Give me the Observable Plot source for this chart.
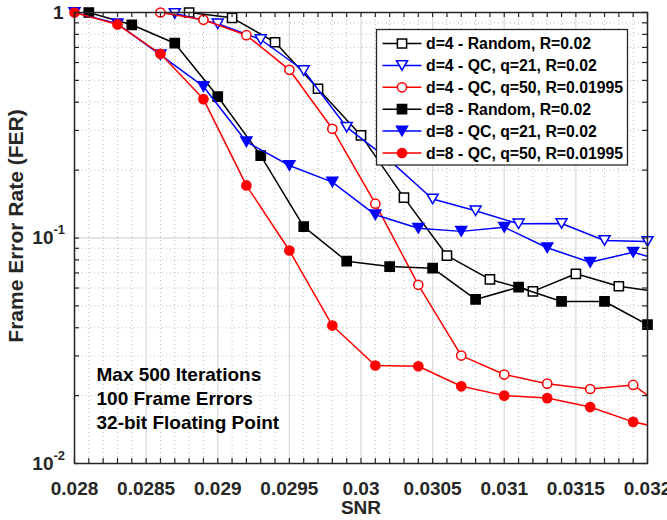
<!DOCTYPE html>
<html><head><meta charset="utf-8">
<script src="https://cdn.jsdelivr.net/npm/d3@7"></script>
<script src="https://cdn.jsdelivr.net/npm/@observablehq/plot@0.6"></script>
<style>
html,body{margin:0;padding:0;background:#fff;}
#chart{width:667px;height:520px;}
</style></head><body><div id="chart"></div>
<script>
// ---- tick values / labels ----
const xMajorTicks = [0.028, 0.0285, 0.029, 0.0295, 0.03, 0.0305, 0.031, 0.0315, 0.032];
const xTickLabels = ["0.028", "0.0285", "0.029", "0.0295", "0.03", "0.0305", "0.031", "0.0315", "0.032"];
const yTickValues = [0.01, 0.1];
const yTickBase = ["10", "10"];
const yTickExp = ["-2", "-1"];
const yTopTick = [1];
const yTopLabel = ["1"];

// ---- series data ----
const seriesNames = [
  "d=4 - Random, R=0.02",
  "d=4 - QC, q=21, R=0.02",
  "d=4 - QC, q=50, R=0.01995",
  "d=8 - Random, R=0.02",
  "d=8 - QC, q=21, R=0.02",
  "d=8 - QC, q=50, R=0.01995"
];
const snrD4Random = [0.0288, 0.0291, 0.0294, 0.0297, 0.0300, 0.0303, 0.0306, 0.0309, 0.0312, 0.0315, 0.0318, 0.0321];
const ferD4Random = [1.0, 0.947, 0.738, 0.459, 0.285, 0.151, 0.0836, 0.0655, 0.058, 0.0694, 0.0611, 0.0573];

const snrD4Q21 = [0.0287, 0.0290, 0.0293, 0.0296, 0.0299, 0.0302, 0.0305, 0.0308, 0.0311, 0.0314, 0.0317, 0.0320];
const ferD4Q21 = [0.99, 0.891, 0.759, 0.553, 0.310, 0.221, 0.149, 0.132, 0.1156, 0.116, 0.0975, 0.0966];

const snrD4Q50 = [0.0286, 0.0289, 0.0292, 0.0295, 0.0298, 0.0301, 0.0304, 0.0307, 0.0310, 0.0313, 0.0316, 0.0319, 0.0322];
const ferD4Q50 = [1.0, 0.928, 0.793, 0.557, 0.305, 0.142, 0.062, 0.0301, 0.0248, 0.0226, 0.0214, 0.0223, 0.0163];

const snrD8Random = [0.0281, 0.0284, 0.0287, 0.0290, 0.0293, 0.0296, 0.0299, 0.0302, 0.0305, 0.0308, 0.0311, 0.0314, 0.0317, 0.0320];
const ferD8Random = [1.0, 0.882, 0.731, 0.424, 0.232, 0.1124, 0.0789, 0.0747, 0.0735, 0.0534, 0.0605, 0.0523, 0.0523, 0.0413];

const snrD8Q21 = [0.0280, 0.0283, 0.0286, 0.0289, 0.0292, 0.0295, 0.0298, 0.0301, 0.0304, 0.0307, 0.0310, 0.0313, 0.0316, 0.0319, 0.0322];
const ferD8Q21 = [1.0, 0.891, 0.649, 0.470, 0.267, 0.2097, 0.177, 0.1267, 0.1105, 0.107, 0.1116, 0.0905, 0.078, 0.0865, 0.0763];

const snrD8Q50 = [0.0280, 0.0283, 0.0286, 0.0289, 0.0292, 0.0295, 0.0298, 0.0301, 0.0304, 0.0307, 0.0310, 0.0313, 0.0316, 0.0319, 0.0322];
const ferD8Q50 = [1.0, 0.885, 0.656, 0.413, 0.171, 0.088, 0.0409, 0.0272, 0.0270, 0.0220, 0.0200, 0.0195, 0.0178, 0.0153, 0.0139];

const annotationLines = ["Max 500 Iterations", "100 Frame Errors", "32-bit Floating Point"];

// ---- styling ----
const FONT = "'Liberation Sans', Arial, Helvetica, sans-serif";
const AX = "#262626";
const triDown = {
  draw(context, size) {
    const r = Math.sqrt(size / Math.PI);
    const w = r * 1.1, h = r * 0.95;
    context.moveTo(-w, -h); context.lineTo(w, -h); context.lineTo(0, h); context.closePath();
  }
};
const rows = (xs, ys) => xs.map((x, i) => ({x, y: ys[i]}));
const series = [
  {data: rows(snrD4Random, ferD4Random), color: "#000000", symbol: "square", r: 5.2, filled: false},
  {data: rows(snrD4Q21, ferD4Q21), color: "#0000ff", symbol: triDown, r: 5.0, filled: false},
  {data: rows(snrD4Q50, ferD4Q50), color: "#ff0000", symbol: "circle", r: 4.6, filled: false},
  {data: rows(snrD8Random, ferD8Random), color: "#000000", symbol: "square", r: 5.2, filled: true},
  {data: rows(snrD8Q21, ferD8Q21), color: "#0000ff", symbol: triDown, r: 5.0, filled: true},
  {data: rows(snrD8Q50, ferD8Q50), color: "#ff0000", symbol: "circle", r: 4.6, filled: true}
];

const xMinor = d3.range(0, 41).map(i => +(0.028 + i * 0.0001).toFixed(5));
const yMinor = [0.01, 0.1].flatMap(b => d3.range(2, 10).map(k => +(b * k).toPrecision(3)));
const yAllTicks = [0.01, ...yMinor.slice(0, 8), 0.1, ...yMinor.slice(8), 1];

const W = 667, H = 520, ML = 74, MR = 20, MT = 12, MB = 57;
const frameW = W - ML - MR, frameH = H - MT - MB;

const marks = [
  // minor dotted grid
  Plot.ruleX(xMinor.filter(v => !xMajorTicks.some(t => Math.abs(t - v) < 1e-9)), {stroke: "#bdbdbd", strokeWidth: 1, strokeDasharray: "1,3"}),
  Plot.ruleY(yMinor, {stroke: "#bdbdbd", strokeWidth: 1, strokeDasharray: "1,3"}),
  // major grid
  Plot.ruleX(xMajorTicks, {stroke: "#dcdcdc", strokeWidth: 1.3}),
  Plot.ruleY([0.1], {stroke: "#dcdcdc", strokeWidth: 1.3}),
];

for (const s of series) {
  marks.push(Plot.line(s.data, {x: "x", y: "y", stroke: s.color, strokeWidth: 1.5, clip: true}));
  marks.push(Plot.dot(s.data, {
    x: "x", y: "y", filter: d => d.x <= 0.03201,
    symbol: s.symbol, r: s.r,
    fill: s.filled ? s.color : "white", stroke: s.color, strokeWidth: 1.5
  }));
}

marks.push(
  // inward ticks
  Plot.tickX(xMinor, {x: d => d, insetTop: frameH - 5, stroke: AX, strokeWidth: 1.2}),
  Plot.tickX(xMinor, {x: d => d, insetBottom: frameH - 5, stroke: AX, strokeWidth: 1.2}),
  Plot.tickY(yAllTicks, {y: d => d, insetRight: frameW - 5, stroke: AX, strokeWidth: 1.2}),
  Plot.tickY(yAllTicks, {y: d => d, insetLeft: frameW - 5, stroke: AX, strokeWidth: 1.2}),
  Plot.frame({stroke: AX, strokeWidth: 1.5}),
  // x tick labels
  Plot.text(xMajorTicks, {x: d => d, frameAnchor: "bottom", dy: 25, text: (d, i) => xTickLabels[i],
    fontSize: 19, fontWeight: "bold", fill: "#262626", lineAnchor: "middle", textAnchor: "middle"}),
  // y tick labels
  Plot.text(yTickValues, {y: d => d, frameAnchor: "left", dx: -21, text: (d, i) => yTickBase[i],
    textAnchor: "end", fontSize: 19, fontWeight: "bold", fill: "#262626"}),
  Plot.text(yTickValues, {y: d => d, frameAnchor: "left", dx: -21, dy: -8, text: (d, i) => yTickExp[i],
    textAnchor: "start", fontSize: 13, fontWeight: "bold", fill: "#262626"}),
  Plot.text(yTopTick, {y: d => d, frameAnchor: "left", dx: -11, text: (d, i) => yTopLabel[i],
    textAnchor: "end", fontSize: 19, fontWeight: "bold", fill: "#262626"}),
  // axis labels
  Plot.text(["SNR"], {frameAnchor: "bottom", dy: 44, text: d => d, lineAnchor: "middle", textAnchor: "middle",
    fontSize: 19, fontWeight: "bold", fill: "#262626"}),
  Plot.text(["Frame Error Rate (FER)"], {frameAnchor: "left", dx: -58, dy: -12, rotate: -90, text: d => d,
    textAnchor: "middle", lineAnchor: "middle", fontSize: 21, fontWeight: "bold", fill: "#262626"}),
  // annotation
  Plot.text([annotationLines.join("\n")], {frameAnchor: "bottom-left", dx: 22, dy: -66, text: d => d,
    textAnchor: "start", lineAnchor: "middle", lineHeight: 1.24, fontSize: 19, fontWeight: "bold", fill: "#000"})
);

const plot = Plot.plot({
  width: W, height: H,
  marginLeft: ML, marginRight: MR, marginTop: MT, marginBottom: MB,
  x: {domain: [0.028, 0.032], axis: null},
  y: {type: "log", domain: [0.01, 1], axis: null},
  style: {fontFamily: FONT, background: "white", overflow: "visible"},
  marks
});
document.getElementById("chart").appendChild(plot);

// ---- legend (inside the plot area, top-right) ----
const svg = d3.select(plot);
const lg = svg.append("g").attr("transform", "translate(376.5,29.5)");
lg.append("rect").attr("width", 251).attr("height", 135.5)
  .attr("fill", "white").attr("stroke", AX).attr("stroke-width", 1.3);
series.forEach((s, i) => {
  const cy = 14 + i * 21.9;
  const g = lg.append("g");
  g.append("line").attr("x1", 6).attr("x2", 45).attr("y1", cy).attr("y2", cy)
    .attr("stroke", s.color).attr("stroke-width", 1.5);
  const sym = typeof s.symbol === "string" ? (s.symbol === "square" ? d3.symbolSquare : d3.symbolCircle) : s.symbol;
  g.append("path").attr("d", d3.symbol(sym, Math.PI * s.r * s.r)())
    .attr("transform", `translate(25.5,${cy})`)
    .attr("fill", s.filled ? s.color : "white").attr("stroke", s.color).attr("stroke-width", 1.5);
  g.append("text").attr("x", 49.5).attr("y", cy).attr("dy", "0.36em")
    .attr("text-anchor", "start")
    .attr("font-family", FONT).attr("font-size", 15.8).attr("font-weight", "bold").attr("fill", "#000")
    .text(seriesNames[i]);
});
</script>
</body></html>
